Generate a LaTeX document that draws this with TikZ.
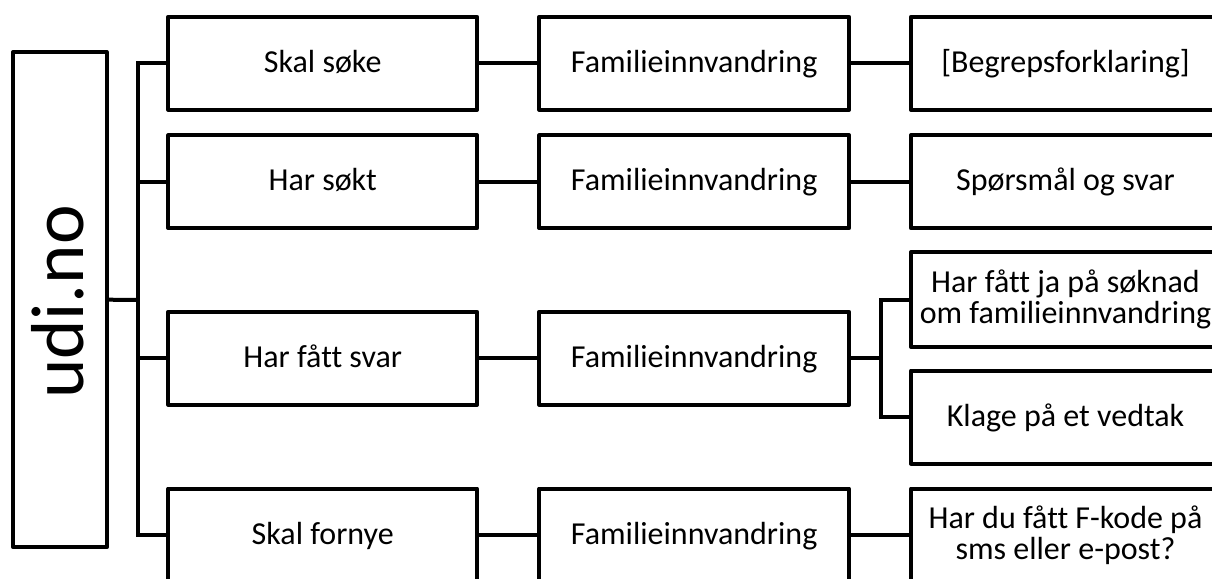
\documentclass[tikz,border=0pt]{standalone}
\usepackage{fontspec}
\setmainfont[Ligatures=NoCommon]{Carlito}
\begin{document}
\begin{tikzpicture}[x=1pt,y=-1pt,
  box/.style={draw=black,line width=4pt,line join=round,rectangle,inner sep=0pt,
    minimum height=93pt,align=center,font=\fontsize{32}{31.5}\selectfont},
  oneline/.style={text height=25pt,text depth=7pt},
  lone/.style={box,minimum width=308.7pt},
  ltwo/.style={box,minimum width=309.7pt},
  lthree/.style={box,minimum width=309pt},
  conn/.style={line width=4pt,line join=miter}]
\useasboundingbox (0,0) rectangle (1212,578);
\clip (0,0) rectangle (1212,578);
\node[draw=black,line width=4pt,line join=round,inner sep=0pt,minimum width=93.4pt,minimum height=495.3pt] (udi) at (60,299.7) {};
\node[rotate=90,anchor=base,font=\fontsize{75}{75}\selectfont,inner sep=0pt] (udit) at (83,302) {udi.no};
\node[lone,oneline] (a1) at (322.7,63.3) {Skal søke};
\node[lone,oneline] (a2) at (322.7,181.7) {Har søkt};
\node[lone,oneline] (a3) at (322.7,358.3) {Har fått svar};
\node[lone,oneline] (a4) at (322.7,535) {Skal fornye};
\node[ltwo,oneline] (b1) at (694.2,63.3) {Familieinnvandring};
\node[ltwo,oneline] (b2) at (694.2,181.7) {Familieinnvandring};
\node[ltwo,oneline] (b3) at (694.2,358.3) {Familieinnvandring};
\node[ltwo,oneline] (b4) at (694.2,535) {Familieinnvandring};
\node[lthree,oneline] (c1) at (1065.5,63.3) {[Begrepsforklaring]};
\node[lthree,oneline] (c2) at (1065.5,181.7) {Spørsmål og svar};
\node[lthree,minimum height=95pt] (c3) at (1065.5,299.5) {Har fått ja på søknad\\om familieinnvandring};
\node[lthree,oneline] (c4) at (1065.5,417) {Klage på et vedtak};
\node[lthree] (c5) at (1065.5,535) {Har du fått F-kode på\\sms eller e-post?};
\coordinate (tr) at (137.7,300);
\coordinate (st) at (880.7,358.3);
\draw[conn] (udi.east) -- (tr);
\draw[conn] (a1.west) -| (tr) |- (a4.west);
\draw[conn] (tr) |- (a2.west);
\draw[conn] (tr) |- (a3.west);
\draw[conn] (a1) -- (b1);
\draw[conn] (a2) -- (b2);
\draw[conn] (a3) -- (b3);
\draw[conn] (a4) -- (b4);
\draw[conn] (b1) -- (c1);
\draw[conn] (b2) -- (c2);
\draw[conn] (b4) -- (c5);
\draw[conn] (b3.east) -- (st);
\draw[conn] (c3.west) -| (st) |- (c4.west);
\end{tikzpicture}
\end{document}
